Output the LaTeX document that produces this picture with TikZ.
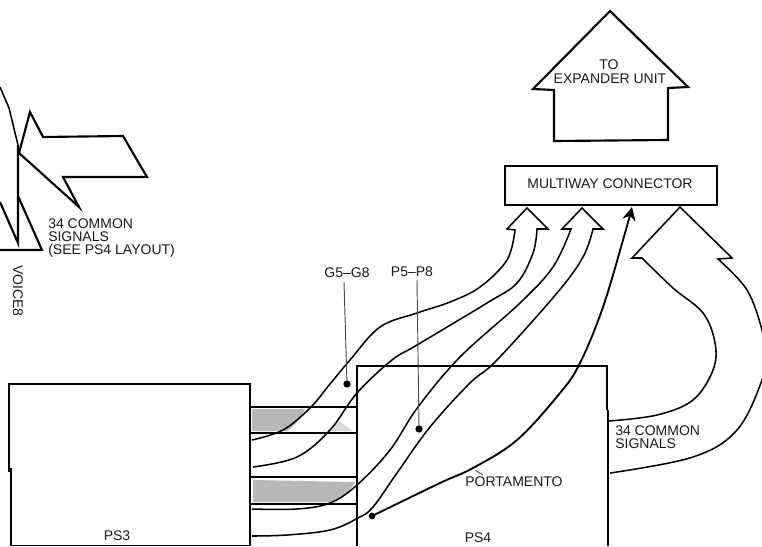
\documentclass[tikz,border=0pt]{standalone}
\usepackage{fontspec}
\setmainfont{Liberation Sans}
\usetikzlibrary{arrows.meta,calc,positioning}
\tikzset{
  lab/.style={inner sep=0pt,align=left,font=\fontsize{10.5}{9.8}\selectfont,text=black!90},
  wire/.style={line width=1.15pt,line join=miter,miter limit=10},
  box/.style={line width=1.6pt},
  leader/.style={line width=0.7pt,black!70},
  spot/.style={circle,fill=black,inner sep=0pt,minimum size=5.5pt}
}
\begin{document}
\begin{tikzpicture}[x=0.75pt,y=-0.75pt,>=Stealth]
\useasboundingbox (0,0) rectangle (762,546);
\clip (0,0) rectangle (762,546);
% shaded parts of the two plugs
\fill[black!28] (252,409) -- (305,409) .. controls (300,420) and (292,428) .. (287,431) -- (252,431) -- cycle;
\fill[black!28] (253,480) -- (355,482) .. controls (350,492) and (340,499) .. (330,502) -- (253,502) -- cycle;
\fill[black!15] (331,431) -- (339,421) -- (353,431) -- cycle;
% boards
\draw[box] (11,546) -- (11,468) (9,472) -- (9,384) -- (250,384) -- (250,546);
\draw[line width=0.8pt] (11,545.5) -- (250,545.5);
\draw[box] (357,546) -- (357,366) -- (607,366) -- (607,410);
\draw[line width=0.8pt] (608,410) -- (608,546);
\draw[box] (505,166) rectangle (717,205);
% plugs
\foreach \y in {407,433,477,504}
  \draw[box] (251,\y) -- (356,\y);
% arrow to the expander
\draw[box,line join=miter] (610,11) -- (688,87) -- (668,88) -- (668,140)
  -- (554,141) -- (554,90) -- (533,89) -- cycle;
% voice card at the left
\draw[wire] (0,87) -- (9,108) -- (18,145);
\draw[box] (18,145) -- (18,243) -- (0,202);
\draw[box] (18,196) -- (42,250) -- (0,250);
\draw[box] (19,153) -- (30,112) -- (43,137) -- (123,136) -- (147,177) -- (63,177) -- (79,207) -- cycle;
% bus G
\draw[wire] plot[smooth,tension=0.6] coordinates {(252,440) (283,430) (310,408) (330,384) (350,360) (380,327) (417,313) (450,302) (480,287) (507,260) (515,230)}
  -- (507,229) -- (527,208) -- (548,229) -- (537,229)
  -- plot[smooth,tension=0.6] coordinates {(537,229) (533,253) (517,283) (487,303) (417,345) (392,360) (357,393) (330,430) (297,457) (253,467)};
% bus P
\draw[wire] plot[smooth,tension=0.6] coordinates {(252,509) (297,509) (330,503) (357,485) (390,450) (418,407) (460,357) (520,303) (553,267) (571,229)}
  -- (562,229) -- (582,208) -- (603,229) -- (593,229)
  -- plot[smooth,tension=0.6] coordinates {(593,229) (583,257) (557,293) (497,360) (470,383) (430,427) (397,473) (373,507) (358,518) (330,530) (287,535) (252,536)};
% common signals to the connector
\draw[wire] plot[smooth,tension=0.6] coordinates {(609,421) (657,415) (693,400) (713,370) (715,343) (703,313) (673,288) (642,258)}
  -- (632,258) -- (680,207) -- (732,258) -- (718,259)
  -- plot[smooth,tension=0.6] coordinates {(718,259) (747,290) (762,330) (765,355) (762,380) (737,430) (693,457) (610,473)};
% portamento
\node[spot,minimum size=5pt] (portdot) at (372,516) {};
\coordinate (porttip) at (632,207);
\draw[line width=1.4pt,-{Stealth[length=10pt,width=10pt]}] plot[smooth,tension=0.6] coordinates {(portdot) (440,483) (473,468) (517,440) (560,393) (580,363) (603,307) (625,233) (porttip)};
\draw[leader] (475,470) -- (483,475);
% labels with leaders
\node[lab] (g58) at (347,273) {G5--G8};
\node[lab] (p58) at (412,272) {P5--P8};
\node[spot] (gdot) at (347,384) {};
\node[spot] (pdot) at (419,429) {};
\draw[leader] (344,282) -- (gdot);
\draw[leader] (417,280) -- (pdot);
% other text
\node[lab] (multi) at (610,184) {MULTIWAY CONNECTOR};
\node[lab] (to) at (609,65) {TO};
\node[lab] (expander) at (610,79) {EXPANDER UNIT};
\node[lab,anchor=west] (common) at (48,238) {34 COMMON\\SIGNALS\\(SEE PS4 LAYOUT)};
\node[lab,rotate=-90] (voice) at (18,291) {VOICE8};
\node[lab,anchor=west] (rcommon) at (615,437.5) {34 COMMON\\SIGNALS};
\node[lab] (porta) at (514,482) {PORTAMENTO};
\node[lab] (ps3) at (117,536) {PS3};
\node[lab] (ps4) at (478,538) {PS4};
\end{tikzpicture}
\end{document}
